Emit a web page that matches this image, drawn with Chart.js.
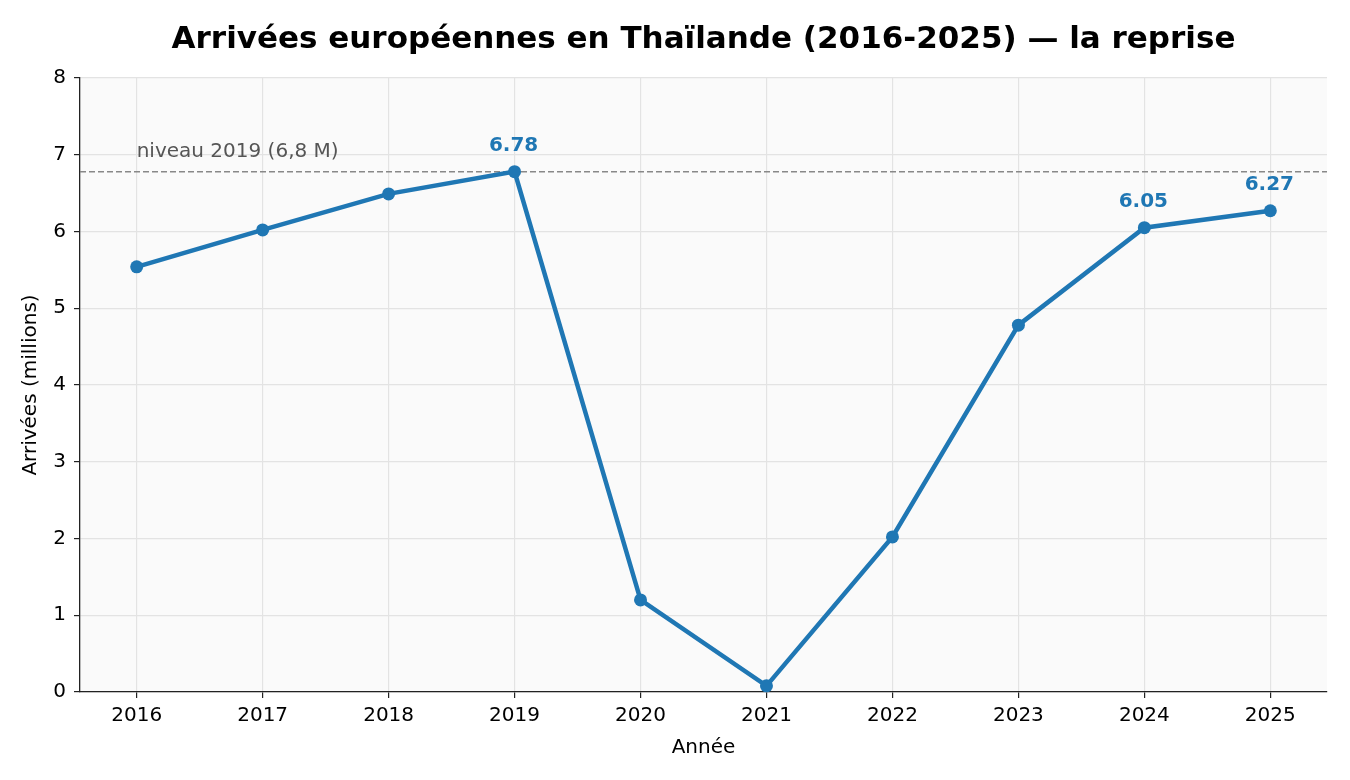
<!DOCTYPE html>
<html>
<head>
<meta charset="utf-8">
<script src="https://cdn.jsdelivr.net/npm/chart.js@4/dist/chart.umd.min.js"></script>
<style>
  html, body { margin: 0; padding: 0; background: #fff; }
  #wrap { width: 1350px; height: 780px; }
</style>
</head>
<body>
<div id="wrap"><canvas id="grafico" width="1350" height="780"></canvas></div>
<script>
const annees = [2016, 2017, 2018, 2019, 2020, 2021, 2022, 2023, 2024, 2025];
const arrivees = [5.54, 6.02, 6.49, 6.78, 1.20, 0.08, 2.02, 4.78, 6.05, 6.27];
const anneesEtiquetees = [2019, 2024, 2025];
const niveau2019 = 6.78;
const texteNiveau = 'niveau 2019 (6,8 M)';
const titre = 'Arrivées européennes en Thaïlande (2016-2025) — la reprise';
const ticksY = [0, 1, 2, 3, 4, 5, 6, 7, 8];

const police = '"DejaVu Sans", sans-serif';
const bleu = '#1f77b4';

// fond gris clair de la zone de tracé + titre centré sur cette zone
const fondZone = {
  id: 'fondZone',
  beforeDraw(chart) {
    const { ctx, chartArea: a } = chart;
    ctx.save();
    ctx.fillStyle = '#fafafa';
    ctx.fillRect(a.left, a.top, a.right - a.left, a.bottom - a.top);
    ctx.fillStyle = '#000';
    ctx.font = 'bold 31px ' + police;
    ctx.textAlign = 'center';
    ctx.textBaseline = 'middle';
    ctx.fillText(titre, (a.left + a.right) / 2, 40);
    ctx.restore();
  }
};

const ligneNiveau = {
  id: 'ligneNiveau',
  beforeDatasetsDraw(chart) {
    const { ctx, chartArea: a, scales } = chart;
    const y = scales.y.getPixelForValue(niveau2019);
    ctx.save();
    ctx.strokeStyle = '#888888';
    ctx.lineWidth = 1.5;
    ctx.setLineDash([6, 3]);
    ctx.beginPath();
    ctx.moveTo(a.left, y);
    ctx.lineTo(a.right, y);
    ctx.stroke();
    ctx.setLineDash([]);
    ctx.fillStyle = '#555555';
    ctx.font = '20px ' + police;
    ctx.textAlign = 'left';
    ctx.textBaseline = 'middle';
    ctx.fillText(texteNiveau, scales.x.getPixelForValue(annees[0]), y - 20);
    ctx.restore();
  },
  afterDatasetsDraw(chart) {
    const { ctx, scales } = chart;
    ctx.save();
    ctx.fillStyle = bleu;
    ctx.font = 'bold 20px ' + police;
    ctx.textAlign = 'center';
    ctx.textBaseline = 'middle';
    anneesEtiquetees.forEach(an => {
      const i = annees.indexOf(an);
      const x = scales.x.getPixelForValue(an);
      const y = scales.y.getPixelForValue(arrivees[i]);
      ctx.fillText(arrivees[i].toFixed(2), x - 1, y - 26);
    });
    ctx.restore();
  }
};

const ctx = document.getElementById('grafico').getContext('2d');
new Chart(ctx, {
  type: 'line',
  data: {
    datasets: [{
      data: annees.map((a, i) => ({ x: a, y: arrivees[i] })),
      borderColor: bleu,
      backgroundColor: bleu,
      borderWidth: 4.5,
      pointRadius: 6.5,
      pointHoverRadius: 6.5,
      pointBorderWidth: 0,
      tension: 0,
      clip: false
    }]
  },
  options: {
    responsive: false,
    animation: false,
    events: [],
    layout: { padding: { left: 0, right: 23, top: 78, bottom: 0 } },
    plugins: {
      legend: { display: false },
      tooltip: { enabled: false },
      title: { display: false }
    },
    scales: {
      x: {
        type: 'linear',
        min: annees[0] - 0.45,
        max: annees[annees.length - 1] + 0.45,
        afterBuildTicks: s => { s.ticks = annees.map(v => ({ value: v })); },
        afterFit: s => { s.height = 88; },
        ticks: {
          color: '#000',
          font: { family: police, size: 20 },
          padding: 6,
          maxRotation: 0,
          callback: v => String(v)
        },
        grid: { color: '#e3e3e3', lineWidth: 1.2, tickLength: 6, tickColor: '#222' },
        border: { display: true, color: '#222', width: 1.3 },
        title: {
          display: true,
          text: 'Année',
          color: '#000',
          font: { family: police, size: 20 },
          padding: { top: 4, bottom: 20 }
        }
      },
      y: {
        min: 0,
        max: 8,
        afterBuildTicks: s => { s.ticks = ticksY.map(v => ({ value: v })); },
        afterFit: s => { s.width = 80; },
        ticks: {
          color: '#000',
          font: { family: police, size: 20 },
          padding: 8
        },
        grid: { color: '#e3e3e3', lineWidth: 1.2, tickLength: 6, tickColor: '#222' },
        border: { display: true, color: '#222', width: 1.3 },
        title: {
          display: true,
          text: 'Arrivées (millions)',
          color: '#000',
          font: { family: police, size: 20 },
          padding: { top: 19, bottom: 8 }
        }
      }
    }
  },
  plugins: [fondZone, ligneNiveau]
});
</script>
</body>
</html>
